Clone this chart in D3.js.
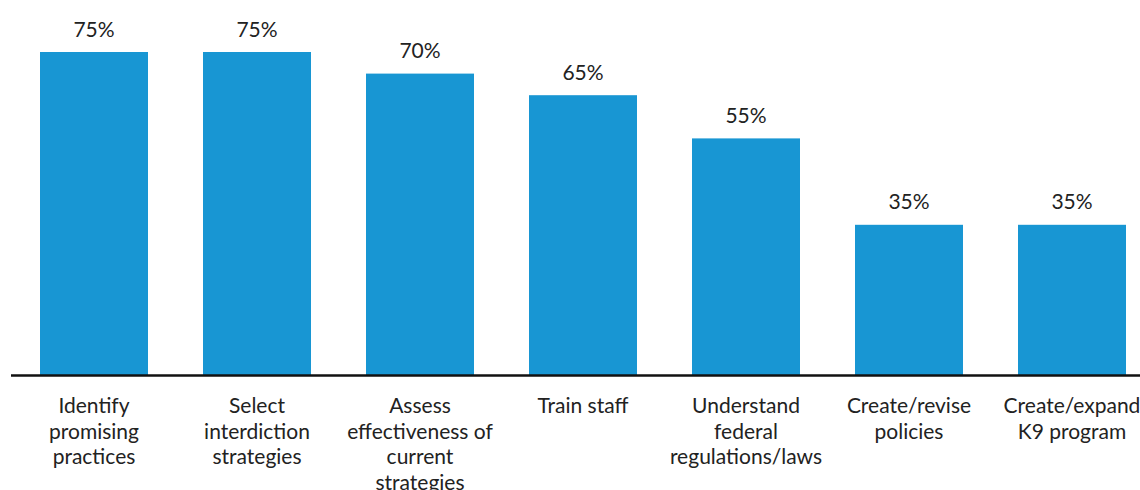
<!DOCTYPE html>
<html>
<head>
<meta charset="utf-8">
<script src="https://cdn.jsdelivr.net/npm/d3@7"></script>
<style>
  html, body { margin: 0; padding: 0; background: #fff; }
  svg { display: block; font-family: Lato, "Open Sans", sans-serif; }
</style>
</head>
<body>
<svg id="chart" width="1140" height="490"></svg>
<script>
// Share of respondents by intended use
const categories = [
  "Identify promising practices",
  "Select interdiction strategies",
  "Assess effectiveness of current strategies",
  "Train staff",
  "Understand federal regulations/laws",
  "Create/revise policies",
  "Create/expand K9 program"
];
const categoryLines = [
  ["Identify", "promising", "practices"],
  ["Select", "interdiction", "strategies"],
  ["Assess", "effectiveness of", "current", "strategies"],
  ["Train staff"],
  ["Understand", "federal", "regulations/laws"],
  ["Create/revise", "policies"],
  ["Create/expand", "K9 program"]
];
const values = [75, 75, 70, 65, 55, 35, 35];

const svg = d3.select("#chart");
const baseY = 376;
const step = 163;

const x = d3.scaleBand()
  .domain(categories)
  .range([12.5, 12.5 + step * categories.length])
  .paddingInner(55 / step)
  .paddingOuter(55 / step / 2);

const y = d3.scaleLinear()
  .domain([0, 75])
  .range([baseY, 52]);

// bars
svg.append("g")
  .selectAll("rect")
  .data(values)
  .join("rect")
  .attr("x", (d, i) => x(categories[i]))
  .attr("y", d => y(d))
  .attr("width", x.bandwidth())
  .attr("height", d => y(0) - y(d))
  .attr("fill", "#1896d3");

// value labels
svg.append("g")
  .selectAll("text")
  .data(values)
  .join("text")
  .attr("x", (d, i) => x(categories[i]) + x.bandwidth() / 2)
  .attr("y", d => y(d) - 15.5)
  .attr("text-anchor", "middle")
  .attr("font-size", 21)
  .attr("fill", "#222")
  .text(d => d + "%");

// baseline
svg.append("line")
  .attr("x1", 11).attr("x2", 1140)
  .attr("y1", baseY - 0.5).attr("y2", baseY - 0.5)
  .attr("stroke", "#111")
  .attr("stroke-width", 2.5);

// category labels
const lab = svg.append("g")
  .selectAll("text")
  .data(categories)
  .join("text")
  .attr("x", d => x(d) + x.bandwidth() / 2)
  .attr("y", 413)
  .attr("text-anchor", "middle")
  .attr("font-size", 21)
  .attr("fill", "#222");

lab.each(function(d, i) {
  d3.select(this).selectAll("tspan")
    .data(categoryLines[i])
    .join("tspan")
    .attr("x", x(d) + x.bandwidth() / 2)
    .attr("dy", (t, j) => j === 0 ? 0 : 25.5)
    .text(t => t);
});
</script>
</body>
</html>
